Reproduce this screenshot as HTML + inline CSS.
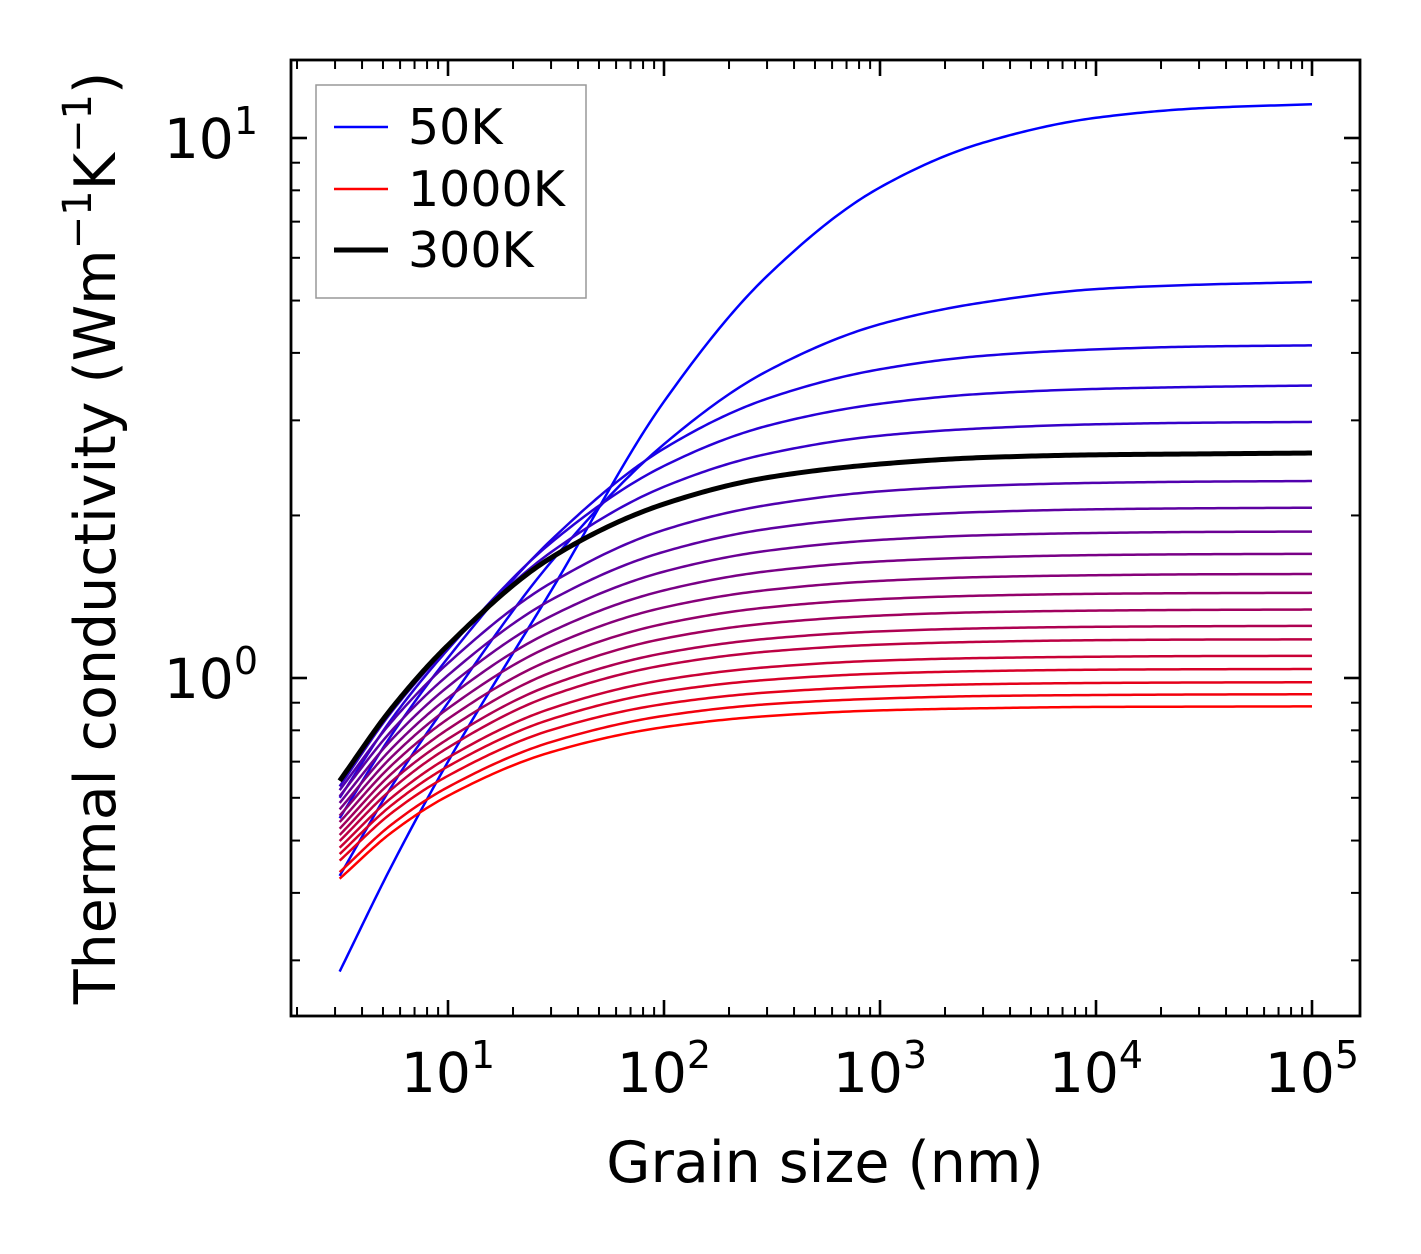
<!DOCTYPE html>
<html><head><meta charset="utf-8"><style>
html,body{margin:0;padding:0;background:#fff;}
svg{display:block;font-family:"DejaVu Sans","Liberation Sans",sans-serif;}
</style></head><body>
<svg id="chart" width="1421" height="1254" viewBox="0 0 1421 1254" xmlns="http://www.w3.org/2000/svg">
<rect width="1421" height="1254" fill="#fff"/>
<g id="curves"></g>
<g id="axes"></g>
<text x="825" y="1182" font-size="57" text-anchor="middle">Grain size (nm)</text>
<text transform="translate(115,538) rotate(-90)" font-size="57" text-anchor="middle">Thermal conductivity (Wm<tspan font-size="40" dy="-24">−1</tspan><tspan dy="24">K</tspan><tspan font-size="40" dy="-24">−1</tspan><tspan dy="24">)</tspan></text>
<g>
<rect x="316" y="85" width="270" height="213" fill="#fff" stroke="#999" stroke-width="1.5"/>
<g><line x1="334" y1="127" x2="388" y2="127" stroke="#0000ff" stroke-width="2.5"/><text x="408" y="144" font-size="49">50K</text></g>
<g><line x1="334" y1="189" x2="388" y2="189" stroke="#ff0000" stroke-width="2.5"/><text x="408" y="206" font-size="49">1000K</text></g>
<g><line x1="334" y1="250" x2="388" y2="250" stroke="#000" stroke-width="5"/><text x="408" y="267" font-size="49">300K</text></g>
</g>
</svg>
<script>
const grainSizes = [3.15, 5.5, 10, 30, 100, 300, 1000, 3000, 10000, 30000, 100000];
const temperatures = [50,100,150,200,250,300,350,400,450,500,550,600,650,700,750,800,850,900,950,1000];
const k50 = [0.286, 0.45, 0.70, 1.45, 3.25, 5.55, 8.10, 9.80, 10.90, 11.35, 11.55];
const k100 = [0.43, 0.631, 0.90, 1.64, 2.71, 3.70, 4.52, 4.96, 5.25, 5.35, 5.41];
const k150 = [0.55, 0.786, 1.09, 1.80, 2.66, 3.29, 3.73, 3.95, 4.06, 4.11, 4.13];
const k200 = [0.60, 0.841, 1.13, 1.78, 2.47, 2.93, 3.22, 3.36, 3.43, 3.46, 3.48];
const k250 = [0.63, 0.867, 1.14, 1.71, 2.26, 2.60, 2.81, 2.90, 2.95, 2.97, 2.98];
const k300 = [0.645, 0.88, 1.15, 1.67, 2.10, 2.35, 2.49, 2.56, 2.59, 2.60, 2.61];
const k350 = [0.620, 0.831, 1.065, 1.50, 1.88, 2.09, 2.216, 2.27, 2.298, 2.31, 2.316];
const k400 = [0.604, 0.800, 1.012, 1.395, 1.713, 1.888, 1.987, 2.03, 2.053, 2.062, 2.067];
const k450 = [0.587, 0.770, 0.964, 1.302, 1.574, 1.720, 1.802, 1.838, 1.856, 1.864, 1.867];
const k500 = [0.571, 0.741, 0.919, 1.219, 1.453, 1.576, 1.644, 1.673, 1.689, 1.695, 1.698];
const k550 = [0.556, 0.715, 0.878, 1.147, 1.351, 1.455, 1.513, 1.538, 1.550, 1.556, 1.558];
const k600 = [0.541, 0.690, 0.840, 1.081, 1.260, 1.351, 1.400, 1.421, 1.432, 1.436, 1.438];
const k650 = [0.526, 0.666, 0.804, 1.024, 1.183, 1.262, 1.305, 1.324, 1.333, 1.337, 1.339];
const k700 = [0.512, 0.644, 0.771, 0.971, 1.112, 1.182, 1.220, 1.236, 1.244, 1.247, 1.249];
const k750 = [0.499, 0.623, 0.743, 0.928, 1.056, 1.119, 1.153, 1.167, 1.175, 1.178, 1.179];
const k800 = [0.485, 0.601, 0.712, 0.878, 0.992, 1.047, 1.077, 1.089, 1.095, 1.098, 1.099];
const k850 = [0.472, 0.582, 0.686, 0.839, 0.943, 0.992, 1.019, 1.030, 1.036, 1.038, 1.039];
const k900 = [0.459, 0.563, 0.659, 0.801, 0.895, 0.940, 0.964, 0.974, 0.979, 0.981, 0.982];
const k950 = [0.437, 0.536, 0.628, 0.761, 0.851, 0.894, 0.916, 0.926, 0.930, 0.932, 0.933];
const k1000 = [0.425, 0.518, 0.605, 0.729, 0.811, 0.850, 0.871, 0.879, 0.884, 0.885, 0.886];
const series = [k50,k100,k150,k200,k250,k300,k350,k400,k450,k500,k550,k600,k650,k700,k750,k800,k850,k900,k950,k1000];
const xTickLabels = ["1","2","3","4","5"];
const yTickLabels = ["0","1"];

const NS = "http://www.w3.org/2000/svg";
const X0 = 291, X1 = 1360, Y0 = 60, Y1 = 1016;
const xLogMin = 1 + (X0 - 448) / 216, xLogMax = 1 + (X1 - 448) / 216;
const yLogMin = -(Y1 - 678) / 540, yLogMax = (678 - Y0) / 540;
function xs(v){ return X0 + (Math.log10(v) - xLogMin) / (xLogMax - xLogMin) * (X1 - X0); }
function ys(v){ return Y1 - (Math.log10(v) - yLogMin) / (yLogMax - yLogMin) * (Y1 - Y0); }

function monotone(xv, yv, n){
  const m = xv.length, d = [], t = [];
  for (let i=0;i<m-1;i++) d.push((yv[i+1]-yv[i])/(xv[i+1]-xv[i]));
  t[0]=d[0]; t[m-1]=d[m-2];
  for (let i=1;i<m-1;i++) {
    if (d[i-1]*d[i] <= 0) { t[i]=0; continue; }
    const h0 = xv[i]-xv[i-1], h1 = xv[i+1]-xv[i];
    const w1 = 2*h1+h0, w2 = h1+2*h0;
    t[i] = (w1+w2)/(w1/d[i-1]+w2/d[i]);
  }
  const pts=[];
  for (let i=0;i<m-1;i++){ const h=xv[i+1]-xv[i];
    for (let j=0;j<n;j++){ const u=j/n, h00=2*u*u*u-3*u*u+1, h10=u*u*u-2*u*u+u, h01=-2*u*u*u+3*u*u, h11=u*u*u-u*u;
      pts.push([xv[i]+u*h, h00*yv[i]+h10*h*t[i]+h01*yv[i+1]+h11*h*t[i+1]]); } }
  pts.push([xv[m-1], yv[m-1]]);
  return pts;
}

const curves = document.getElementById('curves');
const lx = grainSizes.map(v=>Math.log10(v));
let blackPath = null;
series.forEach((vals, i) => {
  const pts = monotone(lx, vals.map(v=>Math.log10(v)), 30);
  const d = pts.map((p,j)=>(j?'L':'M')+xs(Math.pow(10,p[0])).toFixed(2)+','+ys(Math.pow(10,p[1])).toFixed(2)).join('');
  const path = document.createElementNS(NS,'path');
  path.setAttribute('d', d);
  path.setAttribute('fill','none');
  path.setAttribute('stroke-linejoin','round');
  const f = i/(series.length-1);
  const isBlack = temperatures[i] === 300;
  path.setAttribute('stroke', isBlack ? '#000' : 'rgb('+Math.round(255*f)+',0,'+Math.round(255*(1-f))+')');
  path.setAttribute('stroke-width', isBlack ? 5 : 2.5);
  
  
  if (isBlack) blackPath = path; else curves.appendChild(path);
});
if (blackPath) curves.appendChild(blackPath);

const axes = document.getElementById('axes');
function line(x1,y1,x2,y2,w){ const l=document.createElementNS(NS,'line');
  l.setAttribute('x1',x1);l.setAttribute('y1',y1);l.setAttribute('x2',x2);l.setAttribute('y2',y2);
  l.setAttribute('stroke','#000');l.setAttribute('stroke-width',w);
  
  
  axes.appendChild(l); }
for (let e=0;e<=5;e++) for (let m=1;m<=9;m++){
  const v=m*Math.pow(10,e), x=xs(v); if (x<X0||x>X1) continue;
  const L = m===1?16:9, w = m===1?2.6:2;
  line(x,Y1,x,Y1-L,w); line(x,Y0,x,Y0+L,w);
}
for (let e=-1;e<=1;e++) for (let m=1;m<=9;m++){
  const v=m*Math.pow(10,e), y=ys(v); if (y<Y0||y>Y1) continue;
  const L = m===1?16:9, w = m===1?2.6:2;
  line(X0,y,X0+L,y,w); line(X1,y,X1-L,y,w);
}
const frame=document.createElementNS(NS,'rect');
frame.setAttribute('x',X0);frame.setAttribute('y',Y0);frame.setAttribute('width',X1-X0);frame.setAttribute('height',Y1-Y0);
frame.setAttribute('fill','none');frame.setAttribute('stroke','#000');frame.setAttribute('stroke-width',2.8);


axes.appendChild(frame);

xTickLabels.forEach((lab)=>{
  const t=document.createElementNS(NS,'text');
  t.setAttribute('x', xs(Math.pow(10, Number(lab))));
  t.setAttribute('y', 1092);
  t.setAttribute('font-size', 55);
  t.setAttribute('text-anchor','middle');
  t.innerHTML = '10<tspan font-size="38" dy="-24">'+lab+'</tspan>';
  
  
  axes.appendChild(t);
});
yTickLabels.forEach((lab)=>{
  const t=document.createElementNS(NS,'text');
  t.setAttribute('x', 258);
  t.setAttribute('y', ys(Math.pow(10, Number(lab))) + 20);
  t.setAttribute('font-size', 55);
  t.setAttribute('text-anchor','end');
  t.innerHTML = '10<tspan font-size="38" dy="-24">'+lab+'</tspan>';
  
  
  axes.appendChild(t);
});
</script>
</body></html>
